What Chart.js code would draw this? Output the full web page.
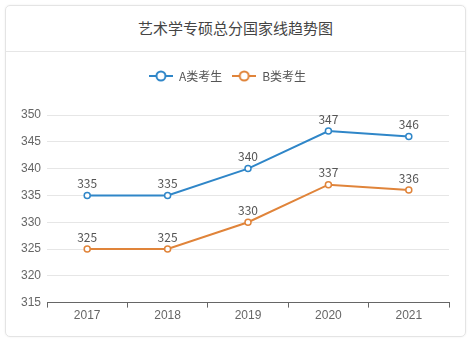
<!DOCTYPE html>
<html><head><meta charset="utf-8">
<script src="https://cdn.jsdelivr.net/npm/chart.js@4.4.0/dist/chart.umd.min.js"></script>
<style>
html,body{margin:0;padding:0;background:#fff;width:474px;height:342px;overflow:hidden;font-family:"Noto Sans CJK SC","Noto Sans",sans-serif;}
#card{position:absolute;left:5px;top:5px;width:459px;height:330px;border:1px solid #e4e4e4;border-radius:5px;box-shadow:0 0 2px rgba(0,0,0,0.08);}
#title{position:absolute;left:0;top:0;width:459px;height:45px;border-bottom:1px solid #e6e6e6;text-align:center;line-height:44px;font-size:15px;color:#444;}
#wrap{position:absolute;left:0;top:46px;width:459px;height:284px;}
</style></head>
<body>
<div id="card"><div id="title">艺术学专硕总分国家线趋势图</div><div id="wrap"><canvas id="c"></canvas></div></div>
<script>
const categories = ["2017","2018","2019","2020","2021"];
const seriesA = [335,335,340,347,346];
const seriesB = [325,325,330,337,336];
const seriesNames = ["A类考生","B类考生"];
const yTicks = [315,320,325,330,335,340,345,350];

const colA = "#2f86c8", colB = "#e0843a";
function icon(color){
  const c=document.createElement('canvas');c.width=24;c.height=12;
  const g=c.getContext('2d');
  g.strokeStyle=color;g.lineWidth=2;
  g.beginPath();g.moveTo(0,6);g.lineTo(24,6);g.stroke();
  g.fillStyle='#fff';g.beginPath();g.arc(12,6,4.5,0,Math.PI*2);g.fill();g.stroke();
  return c;
}
const icons=[icon(colA),icon(colB)];
const labelPlugin={id:'vals',afterDatasetsDraw(chart){
  const ctx=chart.ctx;ctx.save();
  ctx.font='12px "Noto Sans CJK SC","Noto Sans",sans-serif';ctx.fillStyle='#555';ctx.textAlign='center';ctx.textBaseline='bottom';
  chart.data.datasets.forEach((ds,i)=>{chart.getDatasetMeta(i).data.forEach((p,j)=>{ctx.fillText(ds.data[j],p.x,p.y-6);});});
  ctx.restore();}};
const legendGap={id:'legendGap',beforeInit(chart){const fit=chart.legend.fit;chart.legend.fit=function(){fit.bind(chart.legend)();this.height+=23;};}};
new Chart(document.getElementById('c'),{
  type:'line',
  data:{labels:categories,datasets:[
    {label:seriesNames[0],data:seriesA,borderColor:colA,backgroundColor:'#fff',borderWidth:2,pointRadius:3,pointBorderWidth:1.5,tension:0},
    {label:seriesNames[1],data:seriesB,borderColor:colB,backgroundColor:'#fff',borderWidth:2,pointRadius:3,pointBorderWidth:1.5,tension:0}
  ]},
  options:{
    responsive:true,maintainAspectRatio:false,animation:false,
    layout:{padding:{left:0,right:16,top:8,bottom:12}},
    plugins:{
      legend:{labels:{usePointStyle:true,pointStyleWidth:24,boxWidth:24,boxHeight:12,padding:10,color:'#555',font:{size:12,family:'"Noto Sans CJK SC","Noto Sans",sans-serif'},
        generateLabels(chart){return chart.data.datasets.map((ds,i)=>({text:ds.label,pointStyle:icons[i],fillStyle:'#fff',strokeStyle:ds.borderColor,lineWidth:0,hidden:false,datasetIndex:i,fontColor:'#555'}));}}},
      tooltip:{enabled:false}
    },
    scales:{
      x:{offset:true,grid:{drawOnChartArea:false,drawTicks:true,tickLength:5,offset:true,color:'#666'},border:{color:'#666'},
        ticks:{color:'#666',font:{size:12},padding:1}},
      y:{min:315,max:350,afterBuildTicks(ax){ax.ticks=yTicks.map(v=>({value:v}));},
        afterFit(ax){ax.width=41;},
        grid:{color:'#e6e6e6',drawTicks:false},border:{display:false},
        ticks:{color:'#666',font:{size:12},padding:6}}
    }
  },
  plugins:[labelPlugin,legendGap]
});
</script>
</body></html>
